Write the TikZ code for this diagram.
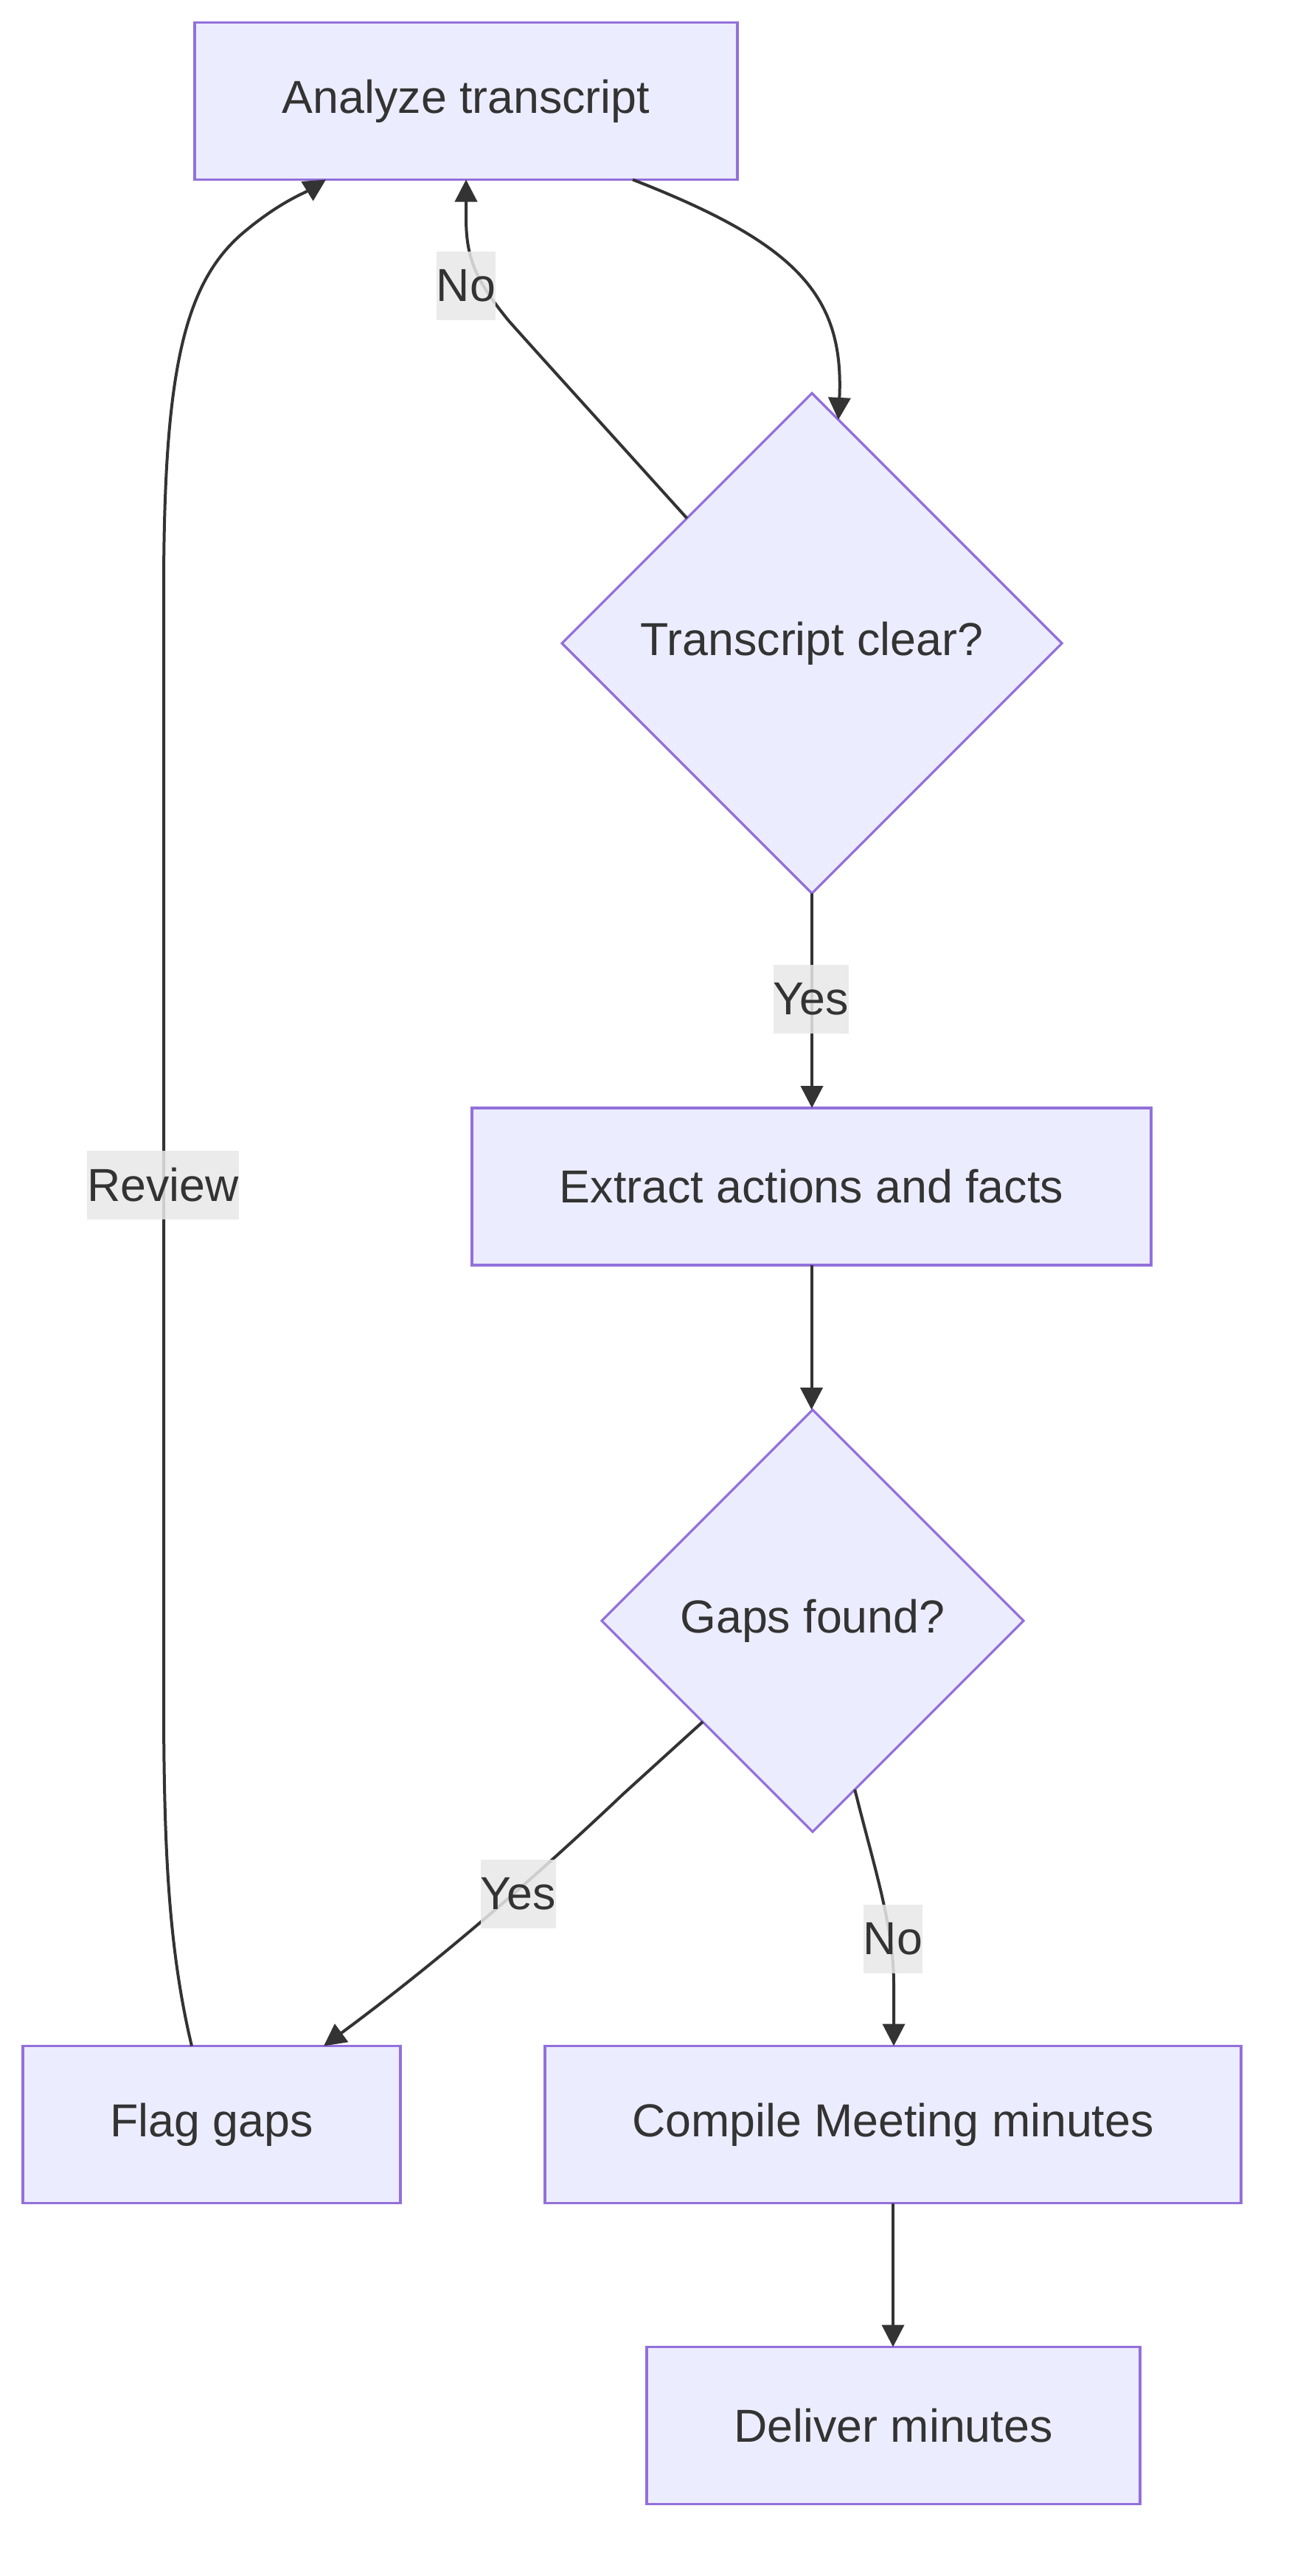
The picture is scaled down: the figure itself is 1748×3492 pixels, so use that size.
\documentclass[tikz,border=0pt]{standalone}
\usepackage{fontspec}
\setmainfont{Liberation Sans}
\usetikzlibrary{shapes.geometric,arrows.meta,calc}
\definecolor{nodefill}{HTML}{ECECFF}
\definecolor{nodeline}{HTML}{9370DB}
\definecolor{ink}{HTML}{333333}
\definecolor{lblbg}{HTML}{E8E8E8}
\begin{document}
\begin{tikzpicture}[x=0.5pt,y=-0.5pt,
  every node/.style={font=\fontsize{31.35}{37.6}\selectfont, text=ink},
  proc/.style={draw=nodeline, fill=nodefill, line width=1.6pt, rectangle, inner sep=0pt, outer sep=0pt, minimum height=106.5pt},
  decision/.style={draw=nodeline, fill=nodefill, line width=1.6pt, diamond, aspect=1, inner sep=0pt, outer sep=0pt},
  edge/.style={draw=ink, line width=2pt, -{Triangle[length=15pt,width=15pt]}},
  elabel/.style={fill=lblbg, fill opacity=0.85, text opacity=1, inner xsep=0pt, inner ysep=0pt, minimum height=46.5pt}]
\useasboundingbox[fill=white] (0,0) rectangle (1748,3492);

% nodes
\node[proc, minimum width=368pt] (A) at (632,137) {Analyze transcript};
\node[decision, minimum width=339pt, minimum height=339pt] (T) at (1101,872) {Transcript clear?};
\node[proc, minimum width=460.5pt] (E) at (1100.5,1608.5) {Extract actions and facts};
\node[decision, minimum width=286pt, minimum height=286pt] (G) at (1102,2197) {Gaps found?};
\node[proc, minimum width=256pt] (F) at (287,2880) {Flag gaps};
\node[proc, minimum width=472pt] (C) at (1211,2880) {Compile Meeting minutes};
\node[proc, minimum width=334.5pt] (D) at (1211.5,3288) {Deliver minutes};

% edges
\draw[edge] ($(A.south)+(226,0)$) .. controls (1080,330) and (1145,400) .. ($(T.north)!0.106!(T.east)$);
\draw[edge] ($(T.north)!0.5!(T.west)$) .. controls (830,590) and (730,480) .. (690,435) .. controls (645,380) and (632,350) .. (632,295) -- (A.south);
\draw[edge] (T.south) -- (T.south |- E.north);
\draw[edge] (E.south) -- (E.south |- G.north);
\draw[edge] ($(G.west)!0.479!(G.south)$) -- (845,2432) .. controls (765,2508) and (620,2640) .. ($(F.north)+(152,0)$);
\draw[edge] ($(G.south)!0.2!(G.east)$) .. controls (1185,2530) and (1212,2610) .. (1212,2690) -- (C.north -| 1212,0);
\draw[edge] (C.south) -- (C.south |- D.north);
\draw[edge] ($(F.north)+(-27,0)$) .. controls (228,2640) and (222,2500) .. (222,2300) -- (222,800) .. controls (222,500) and (250,380) .. (334,312) .. controls (380,274) and (412,262) .. ($(A.south)+(-190,0)$);

% edge labels
\node[elabel] (lno1) at (632,387) {No};
\node[elabel] (lyes1) at (1100,1354) {Yes};
\node[elabel] (lrev) at (221,1606) {Review};
\node[elabel] (lyes2) at (703,2567) {Yes};
\node[elabel] (lno2) at (1211,2628) {No};
\end{tikzpicture}
\end{document}
